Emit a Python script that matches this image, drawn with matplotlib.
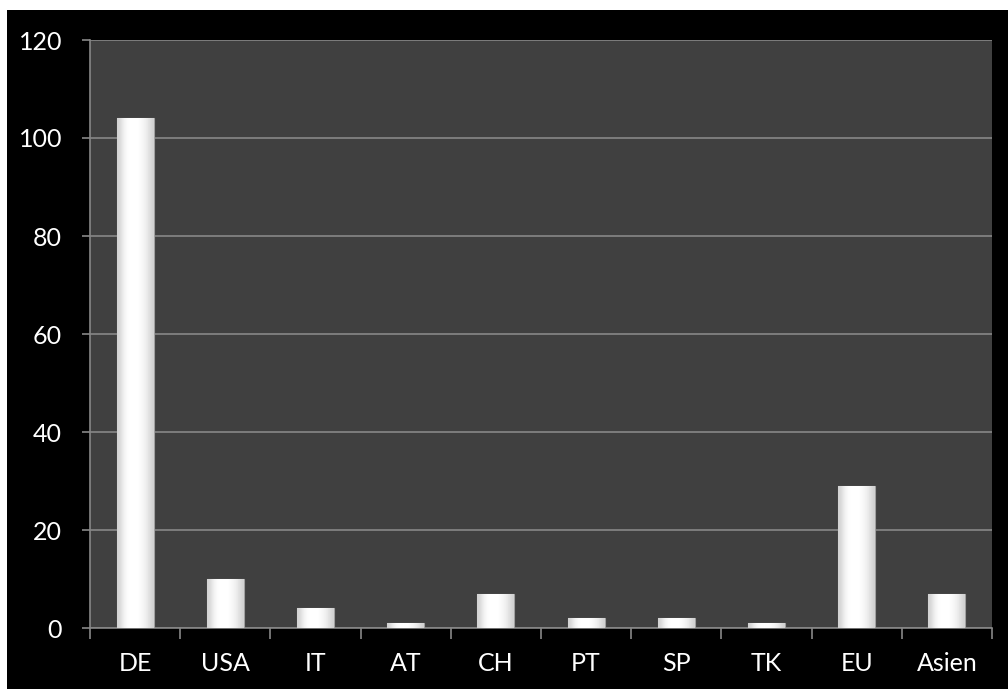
import matplotlib
matplotlib.use('Agg')
import matplotlib.pyplot as plt
import numpy as np
from matplotlib.patches import Rectangle

categories = ['DE', 'USA', 'IT', 'AT', 'CH', 'PT', 'SP', 'TK', 'EU', 'Asien']
values = [104, 10, 4, 1, 7, 2, 2, 1, 29, 7]
y_ticks = [0, 20, 40, 60, 80, 100, 120]

plt.rcParams['font.family'] = ['Lato', 'DejaVu Sans']

fig = plt.figure(figsize=(10.08, 6.89), dpi=100, facecolor='white')
# black background panel (white strip on top and left)
bg = Rectangle((7/1008, 0), 1 - 7/1008, 1 - 10/689, transform=fig.transFigure,
               facecolor='black', edgecolor='none', zorder=-10)
fig.add_artist(bg)

ax = fig.add_axes([90/1008, 61/689, 902/1008, 588/689])
ax.set_facecolor('#404040')

x = np.arange(len(categories))
w = 0.41
bars = ax.bar(x, values, width=w, color='#f2f2f2', edgecolor='#a0a0a0', linewidth=0.8, zorder=3)

# horizontal gradient to give the bars a shiny look
grad = np.array([0.82, 0.92, 0.98, 1.0, 1.0, 1.0, 0.98, 0.95, 0.90, 0.82])
img = np.tile(grad, (2, 1))
for b in bars:
    bx, by = b.get_x(), b.get_y()
    bw, bh = b.get_width(), b.get_height()
    im = ax.imshow(img, cmap='gray', vmin=0, vmax=1, aspect='auto',
                   extent=[bx, bx + bw, by, by + bh], interpolation='bicubic', zorder=3)
    im.set_clip_path(b)

ax.set_xlim(-0.5, len(categories) - 0.5)
ax.set_ylim(0, 120)
ax.set_yticks(y_ticks)
ax.yaxis.grid(True, color='#878787', linewidth=1.2, zorder=1)
ax.set_axisbelow(True)

for s in ['top', 'right']:
    ax.spines[s].set_visible(False)
for s in ['left', 'bottom']:
    ax.spines[s].set_color('#878787')
    ax.spines[s].set_linewidth(1.2)

ax.set_xticks(x)
ax.set_xticklabels(categories)
ax.set_xticks(np.arange(-0.5, len(categories)), minor=True)
ax.tick_params(axis='x', which='major', length=0, pad=17, labelsize=18, labelcolor='white')
ax.tick_params(axis='x', which='minor', length=8, width=1.2, color='#878787', direction='out')
ax.tick_params(axis='y', length=6, width=1.2, color='#878787', pad=14, labelsize=18,
               labelcolor='white', direction='out')

fig.savefig('out.png', dpi=100, facecolor=fig.get_facecolor())
